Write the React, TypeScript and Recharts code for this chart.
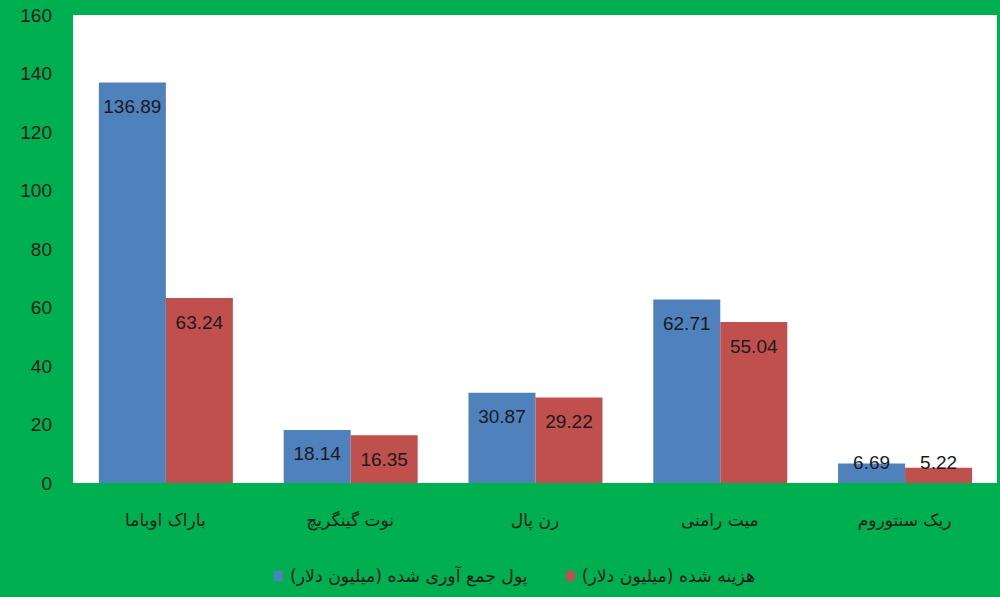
import React from "react";
import { BarChart, Bar, XAxis, YAxis, CartesianGrid, Legend, LabelList } from "recharts";

const categories = ["باراک اوباما", "نوت گینگریچ", "رن پال", "میت رامنی", "ریک سنتوروم"];
const raised = [136.89, 18.14, 30.87, 62.71, 6.69];
const spent = [63.24, 16.35, 29.22, 55.04, 5.22];
const seriesNames = ["پول جمع آوری شده (میلیون دلار)", "هزینه شده (میلیون دلار)"];
const seriesColors = ["#4F81BD", "#C0504D"];
const yTicks = [0, 20, 40, 60, 80, 100, 120, 140, 160];

const data = categories.map((name, i) => ({ name, raised: raised[i], spent: spent[i] }));

const renderLabel = (props: any) => {
  const { x, y, width, height, value } = props;
  const bottom = Number(y) + Number(height);
  const capTop = Math.min(Number(y) + 17, bottom - 28);
  return (
    <text
      x={Number(x) + Number(width) / 2}
      y={capTop + 13.5}
      textAnchor="middle"
      fontSize={19}
      fill="#1a1a1a"
      fontFamily="'Liberation Sans', Arial, sans-serif"
    >
      {value}
    </text>
  );
};

const LegendContent = () => (
  <div
    style={{
      height: 30,
      display: "flex",
      alignItems: "center",
      paddingLeft: 274,
      fontFamily: "'DejaVu Sans', sans-serif",
      fontSize: 17.3,
      color: "#1a1a1a",
    }}
  >
    {seriesNames.map((n, i) => (
      <div key={n} style={{ display: "flex", alignItems: "center", marginRight: 38 }}>
        <span style={{ width: 9, height: 10, background: seriesColors[i], display: "inline-block", marginRight: 7 }} />
        <span dir="rtl">{n}</span>
      </div>
    ))}
  </div>
);

export default function App() {
  return (
    <div style={{ position: "absolute", left: 0, top: 0, width: 1000, height: 597, background: "#00B050" }}>
      <BarChart
        width={1000}
        height={597}
        data={data}
        margin={{ top: 15, right: 3, left: 0, bottom: 6 }}
        barCategoryGap="14%"
        barGap={0}
      >
        <CartesianGrid horizontal={false} vertical={false} fill="#ffffff" stroke="none" />
        <XAxis
          dataKey="name"
          axisLine={false}
          tickLine={false}
          tickSize={0}
          tickMargin={31}
          height={78}
          interval={0}
          tick={{ fill: "#1a1a1a", fontSize: 17, fontFamily: "'DejaVu Sans', sans-serif" }}
        />
        <YAxis
          domain={[0, 160]}
          ticks={yTicks}
          axisLine={false}
          tickLine={false}
          tickSize={0}
          tickMargin={21}
          width={73}
          interval={0}
          tick={{ fill: "#1a1a1a", fontSize: 19, fontFamily: "'Liberation Sans', Arial, sans-serif" }}
        />
        <Legend verticalAlign="bottom" content={<LegendContent />} />
        <Bar dataKey="raised" name={seriesNames[0]} fill={seriesColors[0]} isAnimationActive={false}>
          <LabelList dataKey="raised" content={renderLabel} />
        </Bar>
        <Bar dataKey="spent" name={seriesNames[1]} fill={seriesColors[1]} isAnimationActive={false}>
          <LabelList dataKey="spent" content={renderLabel} />
        </Bar>
      </BarChart>
    </div>
  );
}
